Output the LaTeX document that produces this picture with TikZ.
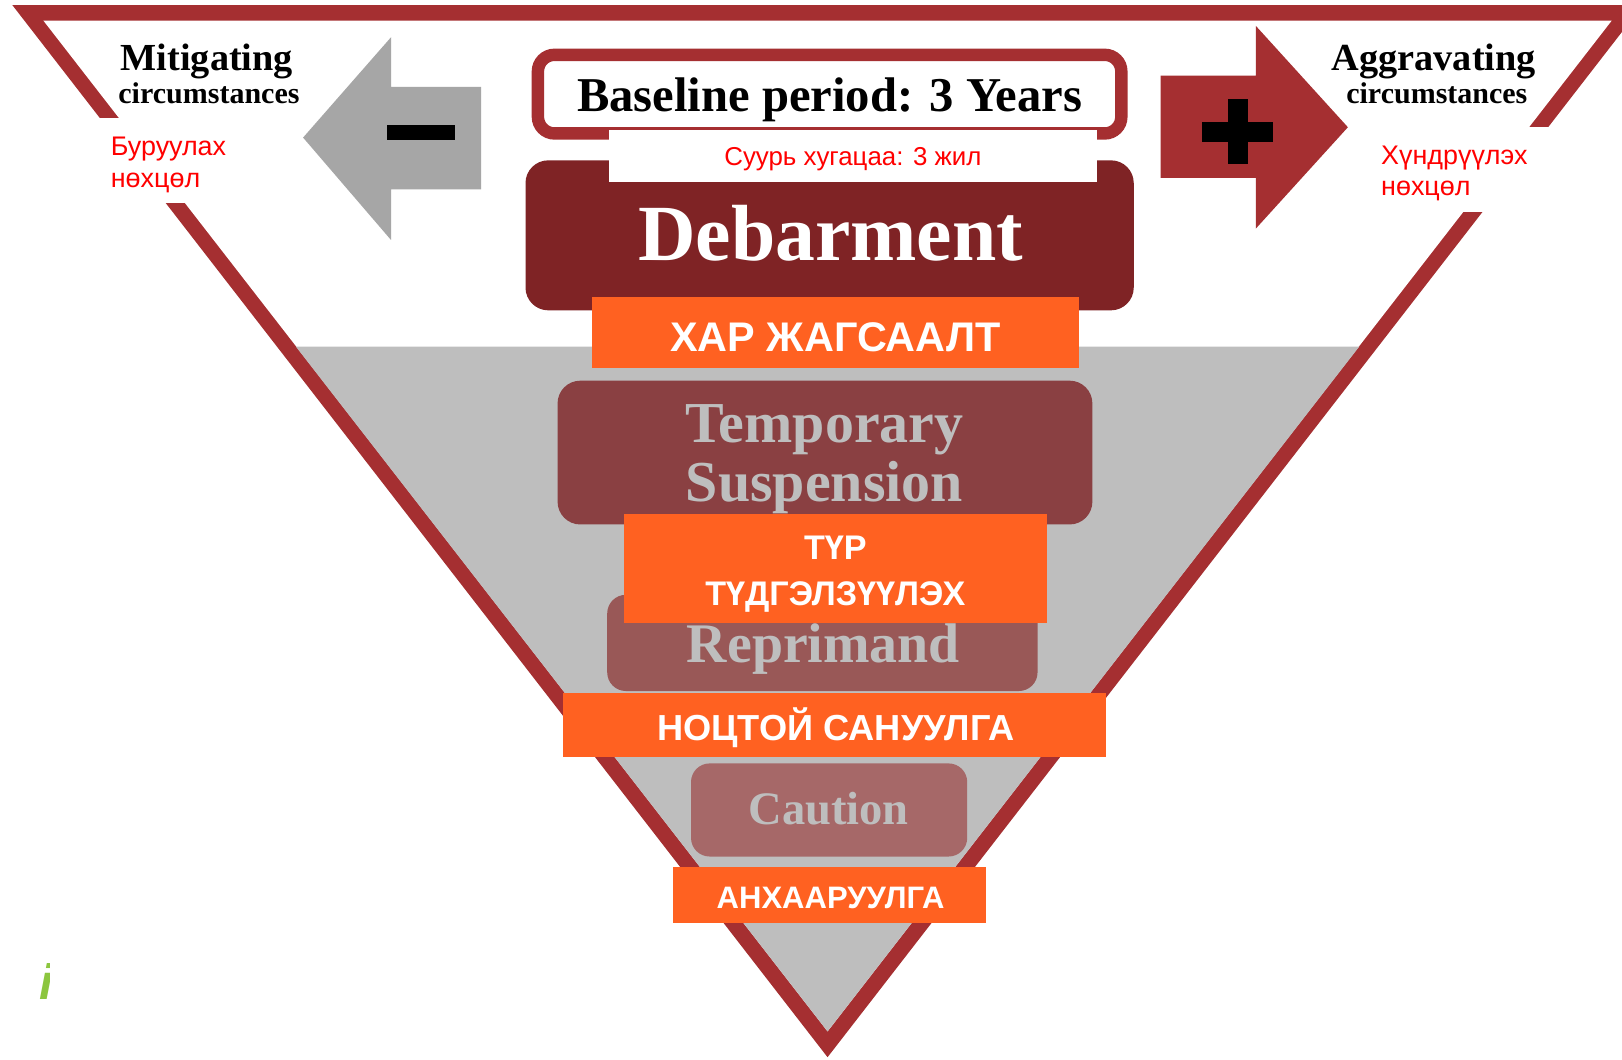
\documentclass[tikz,border=0pt]{standalone}
\usepackage{fontspec}
\setmainfont{Liberation Serif}
\newfontfamily\mnfont{Liberation Sans}
\newcommand\fsz[1]{\fontsize{#1}{#1}\selectfont}

\definecolor{framered}{HTML}{A52F31}
\definecolor{debarred}{HTML}{7F2325}
\definecolor{tempred}{HTML}{8A4042}
\definecolor{reprred}{HTML}{995857}
\definecolor{cautred}{HTML}{A66868}
\definecolor{greyfill}{HTML}{BEBEBE}
\definecolor{arrowgrey}{HTML}{A6A6A6}
\definecolor{tagorange}{HTML}{FF6121}
\definecolor{leafgreen}{HTML}{8CC63F}

\tikzset{
  stagebox/.style={rounded corners=22pt,inner sep=0pt},
  stagetext/.style={text=greyfill,font=\bfseries,anchor=base,inner sep=0pt},
  tagbox/.style={fill=tagorange,inner sep=0pt},
  tagtext/.style={text=white,font=\mnfont\bfseries,anchor=base,inner sep=0pt},
  redtext/.style={text=red,font=\mnfont,anchor=base west,inner sep=0pt}
}

\begin{document}
\begin{tikzpicture}[x=1pt,y=-1pt]
\useasboundingbox (0,0) rectangle (1568,1024);

% frame of the funnel
\fill[framered] (12,5) -- (1588,5) -- (800,1022) -- cycle;
\fill[white] (42,20) -- (1558,20) -- (800,997) -- cycle;
\fill[greyfill] (286,335) -- (1314,335) -- (800,997) -- cycle;
\fill[white] (90,114) rectangle (245,196);
\fill[white] (1320,123) rectangle (1530,205);

% side arrows
\fill[arrowgrey] (293,133) -- (378,36) -- (378,84) -- (465,84) -- (465,183) -- (378,183) -- (378,232) -- cycle;
\fill (374,121) rectangle (440,135);
\fill[framered] (1303,123) -- (1214,25) -- (1214,73) -- (1122,73) -- (1122,172) -- (1214,172) -- (1214,221) -- cycle;
\fill (1162,118) rectangle (1231,137);
\fill (1187,96) rectangle (1206,159);

\node[font=\bfseries,anchor=base,inner sep=0pt] (mit) at (200,68) {\fsz{37}Mitigating};
\node[font=\bfseries,anchor=base,inner sep=0pt] (mitc) at (202,100) {\fsz{29}circumstances};
\node[redtext] (bur1) at (107,150) {\fsz{26}Буруулах};
\node[redtext] (bur2) at (107,181) {\fsz{26}нөхцөл};

\node[font=\bfseries,anchor=base,inner sep=0pt] (agg) at (1386,68) {\fsz{37}Aggravating};
\node[font=\bfseries,anchor=base,inner sep=0pt] (aggc) at (1389,100) {\fsz{29}circumstances};
\node[redtext] (hund1) at (1335,159) {\fsz{26}Хүндрүүлэх};
\node[redtext] (hund2) at (1335,189) {\fsz{26}нөхцөл};

% stages
\node[stagebox,fill=debarred,minimum width=588pt,minimum height=145pt] (debar) at (802,227.5) {};
\node[draw=framered,line width=12pt,rounded corners=16pt,fill=white,minimum width=564pt,minimum height=76pt,inner sep=0pt] (base) at (802,91) {};
\node[font=\bfseries,anchor=base,inner sep=0pt] (basetxt) at (802,108) {\fsz{47}Baseline period: 3 Years};
\node[fill=white,minimum width=471pt,minimum height=50pt,inner sep=0pt] (suur) at (824.5,151) {};
\node[text=red,font=\mnfont,anchor=base,inner sep=0pt] (suurtxt) at (824.5,160) {\fsz{25}Суурь хугацаа: 3 жил};
\node[stagetext,text=white] (debartxt) at (803,252) {\fsz{77}Debarment};
\node[tagbox,minimum width=471pt,minimum height=69pt] (har) at (807.5,321.5) {};
\node[tagtext] (hartxt) at (807.5,340) {\fsz{40}ХАР ЖАГСААЛТ};

\node[stagebox,fill=tempred,minimum width=517pt,minimum height=139pt] (temp) at (797.5,437.5) {};
\node[stagetext] (temp1) at (797,428) {\fsz{56}Temporary};
\node[stagetext] (temp2) at (797,485) {\fsz{56}Suspension};

\node[stagebox,rounded corners=18pt,fill=reprred,minimum width=416pt,minimum height=93pt] (repr) at (795,621.5) {};
\node[stagetext] (reprtxt) at (796,640) {\fsz{54}Reprimand};
\node[tagbox,minimum width=409pt,minimum height=105pt] (tur) at (807.5,549.5) {};
\node[tagtext] (tur1) at (807.5,541) {\fsz{33}ТҮР};
\node[tagtext] (tur2) at (807.5,585) {\fsz{33}ТҮДГЭЛЗҮҮЛЭХ};

\node[tagbox,minimum width=525pt,minimum height=62pt] (nots) at (806.5,701) {};
\node[tagtext] (notstxt) at (808,716) {\fsz{35}НОЦТОЙ САНУУЛГА};

\node[stagebox,rounded corners=18pt,fill=cautred,minimum width=267pt,minimum height=90pt] (caut) at (801.5,783) {};
\node[stagetext] (cauttxt) at (801,797) {\fsz{45}Caution};
\node[tagbox,minimum width=302pt,minimum height=54pt] (anh) at (802,865) {};
\node[tagtext] (anhtxt) at (803,878) {\fsz{30}АНХААРУУЛГА};

% stray mark at the left
\begin{scope}
\clip (30,920) rectangle (48,972);
\node[text=leafgreen,font=\mnfont\bfseries\itshape,anchor=base west,inner sep=0pt] (ileaf) at (38,966) {\fsz{48}i};
\end{scope}
\end{tikzpicture}
\end{document}
